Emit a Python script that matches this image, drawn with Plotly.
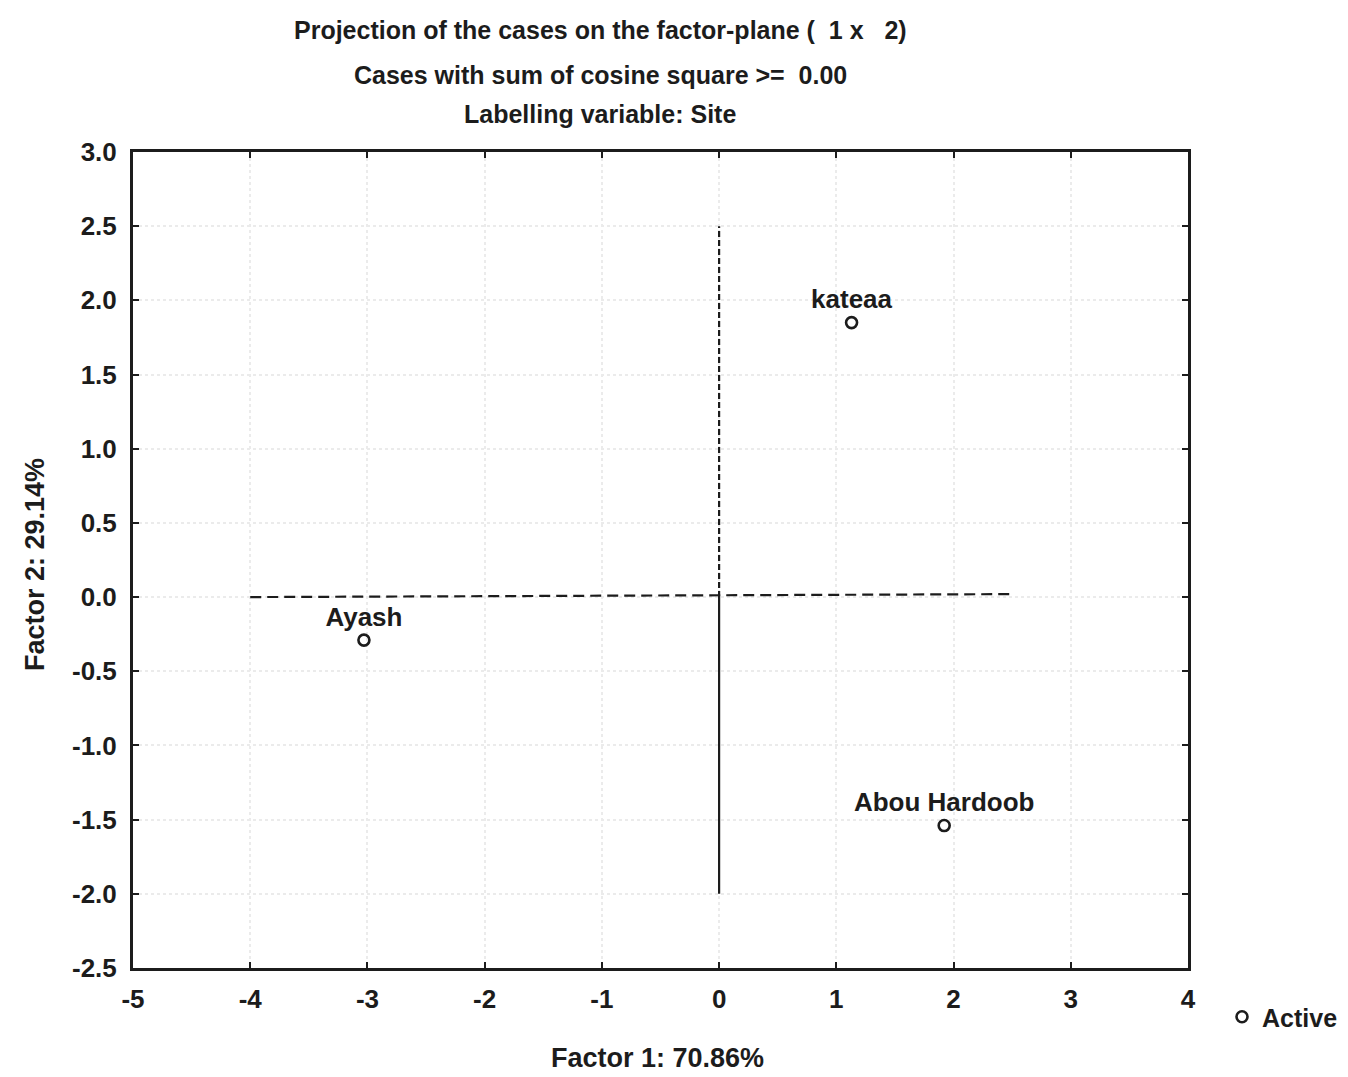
import plotly.graph_objects as go

# Data
sites = ["kateaa", "Ayash", "Abou Hardoob"]
factor1 = [1.13, -3.03, 1.92]
factor2 = [1.85, -0.29, -1.54]

# Reference axes lines (data coordinates)
hline_x = [-4.0, 2.5]
hline_y = [0.0, 0.02]
vline_dash_y = [0.0, 2.5]
vline_solid_y = [-2.0, 0.0]

x_ticks = [-5, -4, -3, -2, -1, 0, 1, 2, 3, 4]
y_ticks = [-2.5, -2.0, -1.5, -1.0, -0.5, 0.0, 0.5, 1.0, 1.5, 2.0, 2.5, 3.0]

FONT = "Liberation Sans, Arial, sans-serif"
INK = "#1c1c1c"

# figure pixel geometry (page has an 8px body offset)
OFF = 8
L, R, T, B = 133 - OFF, 1348 - 1188 + OFF, 152 - OFF, 1077 - 968 + OFF
PW, PH = 1348 - L - R, 1077 - T - B


def px_x(xr):
    return (xr - OFF - L) / PW


def px_y(yr):
    return (1077 - B - (yr - OFF)) / PH


def bold(s):
    return f"<b>{s}</b>"


fig = go.Figure()

fig.add_trace(go.Scatter(x=hline_x, y=hline_y, mode="lines",
                         line=dict(color=INK, width=2.2, dash="11px,6px"),
                         showlegend=False, hoverinfo="skip"))
fig.add_trace(go.Scatter(x=[0, 0], y=vline_dash_y, mode="lines",
                         line=dict(color=INK, width=2.2, dash="6px,3px"),
                         showlegend=False, hoverinfo="skip"))
fig.add_trace(go.Scatter(x=[0, 0], y=vline_solid_y, mode="lines",
                         line=dict(color=INK, width=2.2),
                         showlegend=False, hoverinfo="skip"))

fig.add_trace(go.Scatter(
    x=factor1, y=factor2, mode="markers+text", text=[bold(s) for s in sites],
    textposition="top center",
    textfont=dict(family=FONT, size=26, color=INK),
    marker=dict(symbol="circle-open", size=11, color=INK, line=dict(width=2.6)),
    name=bold("Active"), showlegend=True))

fig.update_layout(
    width=1348, height=1077,
    margin=dict(l=L, r=R, t=T, b=B, autoexpand=False),
    paper_bgcolor="white", plot_bgcolor="white",
    font=dict(family=FONT, color=INK, size=26),
    showlegend=True,
    legend=dict(x=px_x(1222), y=px_y(1017), xanchor="left", yanchor="middle",
                font=dict(size=25, family=FONT, color=INK),
                bgcolor="rgba(0,0,0,0)", itemwidth=30),
    xaxis=dict(range=[-5, 4], tickvals=x_ticks, ticktext=[bold(v) for v in x_ticks],
               showgrid=True, gridcolor="#ebebeb", griddash="dot", gridwidth=1.5,
               zeroline=False, showline=True, linecolor=INK, linewidth=3, mirror="ticks",
               ticks="inside", ticklen=6, tickwidth=2, tickcolor=INK,
               ticklabelstandoff=6,
               tickfont=dict(size=26, family=FONT, color=INK)),
    yaxis=dict(range=[-2.5, 3.0], tickvals=y_ticks, ticktext=[bold(f"{v:.1f}") for v in y_ticks],
               showgrid=True, gridcolor="#ebebeb", griddash="dot", gridwidth=1.5,
               zeroline=False, showline=True, linecolor=INK, linewidth=3, mirror="ticks",
               ticks="inside", ticklen=6, tickwidth=2, tickcolor=INK,
               ticklabelstandoff=8,
               tickfont=dict(size=26, family=FONT, color=INK)),
)

titles = [("Projection of the cases on the factor-plane (  1 x   2)", 30),
          ("Cases with sum of cosine square >=  0.00", 75),
          ("Labelling variable: Site", 114)]
for txt, ypx in titles:
    fig.add_annotation(text=bold(txt), xref="paper", yref="paper",
                       x=px_x(600), y=px_y(ypx),
                       showarrow=False, xanchor="center", yanchor="middle",
                       font=dict(size=25, family=FONT, color=INK))

# axis titles
fig.add_annotation(text=bold("Factor 1: 70.86%"), xref="paper", yref="paper",
                   x=px_x(657), y=px_y(1058), showarrow=False,
                   xanchor="center", yanchor="middle",
                   font=dict(size=27, family=FONT, color=INK))
fig.add_annotation(text=bold("Factor 2: 29.14%"), xref="paper", yref="paper",
                   x=px_x(35), y=px_y(565), showarrow=False, textangle=-90,
                   xanchor="center", yanchor="middle",
                   font=dict(size=27, family=FONT, color=INK))

fig.write_html("out.html")
